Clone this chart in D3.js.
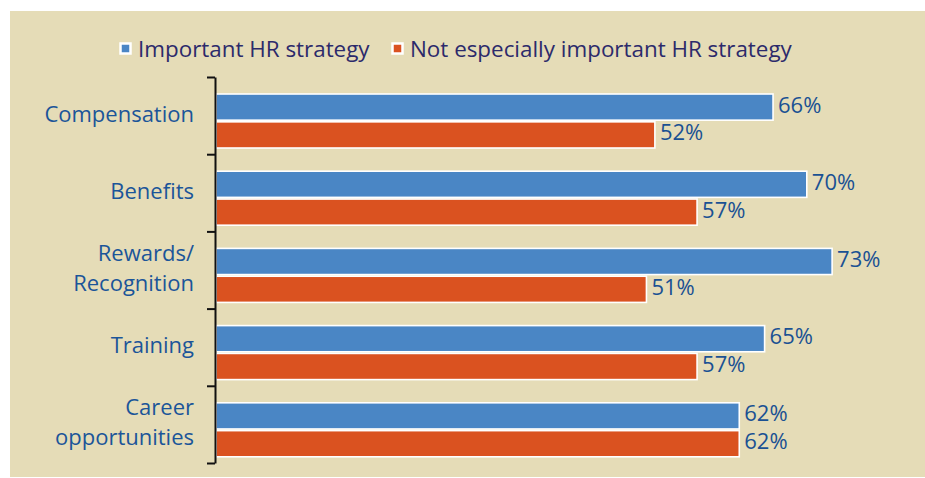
<!DOCTYPE html>
<html>

<head>
    <meta charset="utf-8">
    <title>HR strategy</title>
    <script type="text/javascript" src="https://cdn.jsdelivr.net/npm/d3@7/dist/d3.min.js"></script>
    <style>
        body { margin: 0; background: #ffffff; }
        text { font-family: "Open Sans", sans-serif; }
    </style>
</head>

<body>
    <script type="text/javascript">
    // data
    var categories = ['Compensation', 'Benefits', 'Rewards/Recognition', 'Training', 'Career opportunities'];
    var categoryLines = [['Compensation'], ['Benefits'], ['Rewards/', 'Recognition'], ['Training'], ['Career', 'opportunities']];
    var series = ['Important HR strategy', 'Not especially important HR strategy'];
    var important = [66, 70, 73, 65, 62];
    var notImportant = [52, 57, 51, 57, 62];

    var colors = ['#4a86c5', '#da5220'];

    var svgWidth = 925;
    var svgHeight = 478;

    var svg = d3.select('body').append('svg')
        .attr('width', svgWidth)
        .attr('height', svgHeight);

    // beige panel
    svg.append('rect')
        .attr('x', 10).attr('y', 11)
        .attr('width', svgWidth - 10).attr('height', 466)
        .attr('fill', '#e5dcb7');

    /* scales */
    var x = d3.scaleLinear().domain([0, 100]).range([216, 1060]);
    var y0 = d3.scaleBand().domain(categories).range([77, 463]);
    var yEdge = d3.scaleLinear().domain([0, categories.length]).range([77, 463]);
    var y1 = d3.scaleBand().domain(series).range([17, 71]).paddingInner(0.06);
    var color = d3.scaleOrdinal().domain(series).range(colors);

    var rows = categories.map(function(c, i) {
        return {cat: c, lines: categoryLines[i], vals: [important[i], notImportant[i]]};
    });

    /* bars */
    var groups = svg.selectAll('g.row')
        .data(rows)
        .enter()
        .append('g')
        .attr('class', 'row')
        .attr('transform', function(d) { return 'translate(0,' + y0(d.cat) + ')'; });

    var cells = groups.selectAll('g.cell')
        .data(function(d) {
            return series.map(function(s, j) { return {s: s, v: d.vals[j]}; });
        })
        .enter()
        .append('g')
        .attr('class', 'cell');

    cells.append('rect')
        .attr('x', x(0))
        .attr('y', function(d) { return y1(d.s); })
        .attr('width', function(d) { return x(d.v) - x(0); })
        .attr('height', y1.bandwidth())
        .attr('fill', function(d) { return color(d.s); })
        .attr('stroke', '#ffffff')
        .attr('stroke-width', 1.6);

    cells.append('text')
        .attr('x', function(d) { return x(d.v) + 5; })
        .attr('y', function(d) { return y1(d.s) + y1.bandwidth() / 2 + 5.5; })
        .attr('font-size', '22px')
        .attr('fill', '#1a5193')
        .text(function(d) { return d.v + '%'; });

    /* axis */
    var axis = d3.axisLeft(yEdge)
        .ticks(categories.length)
        .tickFormat('')
        .tickSize(8)
        .tickSizeOuter(0);

    var axisG = svg.append('g')
        .attr('transform', 'translate(' + (x(0) - 1) + ',0)')
        .call(axis);
    axisG.selectAll('path, line')
        .attr('stroke', '#111111')
        .attr('stroke-width', 2);

    /* category labels */
    var lineH = 30;
    svg.selectAll('text.cat')
        .data(rows)
        .enter()
        .append('text')
        .attr('class', 'cat')
        .attr('text-anchor', 'end')
        .attr('font-size', '22px')
        .attr('fill', '#1b5599')
        .attr('y', function(d) {
            var c = y0(d.cat) + y0.bandwidth() / 2;
            return c + 6 - (d.lines.length - 1) * lineH / 2;
        })
        .selectAll('tspan')
        .data(function(d) { return d.lines; })
        .enter()
        .append('tspan')
        .attr('x', 194)
        .attr('dy', function(d, i) { return i === 0 ? 0 : lineH; })
        .text(function(d) { return d; });

    /* legend */
    var legendX = [119, 391];
    var legend = svg.selectAll('g.legend')
        .data(series)
        .enter()
        .append('g')
        .attr('class', 'legend')
        .attr('transform', function(d, i) { return 'translate(' + legendX[i] + ',42)'; });

    legend.append('rect')
        .attr('x', 1.5).attr('y', 1.5)
        .attr('width', 10).attr('height', 10)
        .attr('fill', function(d) { return color(d); })
        .attr('stroke', '#ffffff')
        .attr('stroke-width', 2.5);

    legend.append('text')
        .attr('x', 19)
        .attr('y', 15)
        .attr('font-size', '22.4px')
        .attr('fill', '#2c2a6b')
        .text(function(d) { return d; });
    </script>
</body>

</html>
